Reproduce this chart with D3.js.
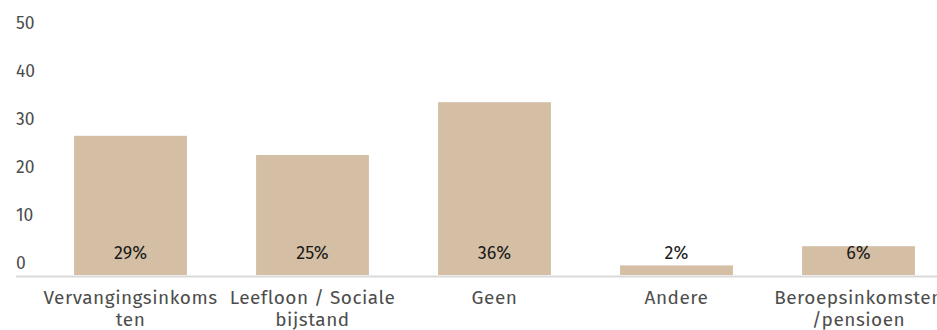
<!DOCTYPE html>
<html><head><meta charset="utf-8">
<script src="https://cdn.jsdelivr.net/npm/d3@7"></script>
<style>html,body{margin:0;padding:0;background:#fff;}svg{display:block;overflow:hidden;}</style>
</head><body>
<svg id="chart" width="937" height="330"></svg>
<script>
const categories = ["Vervangingsinkomsten", "Leefloon / Sociale bijstand", "Geen", "Andere", "Beroepsinkomsten /pensioen"];
const categoryLines = [["Vervangingsinkoms", "ten"], ["Leefloon / Sociale", "bijstand"], ["Geen"], ["Andere"], ["Beroepsinkomsten", "/pensioen"]];
const values = [29, 25, 36, 2, 6];
const valueLabels = ["29%", "25%", "36%", "2%", "6%"];
const yTicks = [0, 10, 20, 30, 40, 50];

const font = "'Fira Sans', 'Noto Sans', sans-serif";
const svg = d3.select("#chart");
const y = d3.scaleLinear().domain([0, 50]).range([275, 35]);
const x = d3.scaleBand().domain(categories).range([39.5, 949.5]).paddingInner(0.38).paddingOuter(0.19);

// y tick labels (no gridlines)
svg.append("g").selectAll("text").data(yTicks).join("text")
  .attr("x", 16).attr("y", d => y(d) - 12)
  .attr("dominant-baseline", "central")
  .attr("font-family", font).attr("font-size", 17.5).attr("fill", "#4d4d4d")
  .text(d => d);

// bars
svg.append("g").selectAll("rect").data(values).join("rect")
  .attr("x", (d, i) => x(categories[i]))
  .attr("width", x.bandwidth())
  .attr("y", d => y(d))
  .attr("height", d => y(0) - y(d))
  .attr("fill", "#d4bfa4");

// baseline
svg.append("line").attr("x1", 16).attr("x2", 937)
  .attr("y1", y(0) + 1.5).attr("y2", y(0) + 1.5)
  .attr("stroke", "#d9d9d9").attr("stroke-width", 2);

// value labels
svg.append("g").selectAll("text").data(valueLabels).join("text")
  .attr("x", (d, i) => x(categories[i]) + x.bandwidth() / 2)
  .attr("y", y(0) - 22)
  .attr("text-anchor", "middle").attr("dominant-baseline", "central")
  .attr("font-family", font).attr("font-size", 18).attr("fill", "#1a1a1a")
  .text(d => d);

// category labels
const cat = svg.append("g").selectAll("text").data(categoryLines).join("text")
  .attr("x", (d, i) => x(categories[i]) + x.bandwidth() / 2)
  .attr("y", 297)
  .attr("text-anchor", "middle").attr("dominant-baseline", "central")
  .attr("font-family", font).attr("font-size", 19).attr("letter-spacing", 0.5).attr("fill", "#4d4d4d");
cat.selectAll("tspan").data(d => d).join("tspan")
  .attr("x", function() { return d3.select(this.parentNode).attr("x"); })
  .attr("dy", (d, i) => i === 0 ? 0 : 22)
  .text(d => d);
</script>
</body></html>
